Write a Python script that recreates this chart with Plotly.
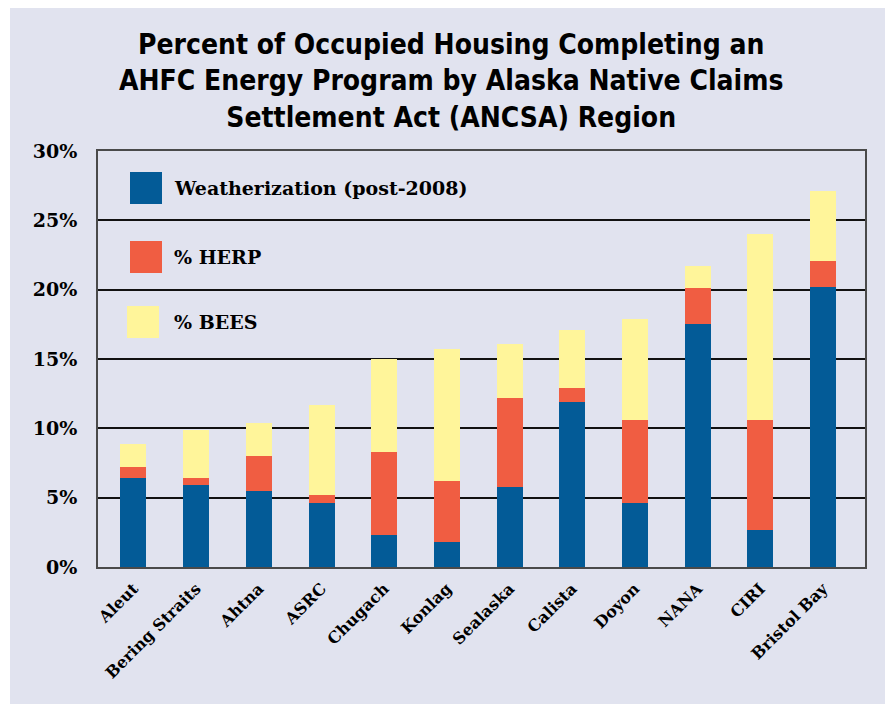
import plotly.graph_objects as go

regions = ["Aleut", "Bering Straits", "Ahtna", "ASRC", "Chugach", "Konlag",
           "Sealaska", "Calista", "Doyon", "NANA", "CIRI", "Bristol Bay"]
weatherization = [6.4, 5.9, 5.5, 4.6, 2.3, 1.8, 5.8, 11.9, 4.6, 17.5, 2.7, 20.2]
herp = [0.8, 0.5, 2.5, 0.6, 6.0, 4.4, 6.4, 1.0, 6.0, 2.6, 7.9, 1.9]
bees = [1.7, 3.5, 2.4, 6.5, 6.7, 9.5, 3.9, 4.2, 7.3, 1.6, 13.4, 5.0]
series_names = ["Weatherization (post-2008)", "% HERP", "% BEES"]
colors = ["#035B97", "#F05D42", "#FFF59A"]
y_ticks = [0, 5, 10, 15, 20, 25, 30]
y_ticklabels = ["0%", "5%", "10%", "15%", "20%", "25%", "30%"]

# page is offset by the default 8px body margin
OFF = 8
W, H = 893 - OFF, 704 - OFF
L, T = 98 - OFF, 151 - OFF
R = W - (865 - OFF)
B = H - (567 - OFF)
pw, ph = W - L - R, H - T - B

def px(x):  # page pixel -> paper x
    return (x - OFF - L) / pw

def py(y):  # page pixel -> paper y
    return (H - B - (y - OFF)) / ph

fig = go.Figure()
for name, vals, col in zip(series_names, [weatherization, herp, bees], colors):
    fig.add_trace(go.Bar(x=regions, y=vals, name=name, marker_color=col,
                         marker_line_width=0, width=0.415, showlegend=False))

serif = "DejaVu Serif, Liberation Serif, serif"
shapes = [
    dict(type="rect", xref="paper", yref="paper", x0=px(10), x1=px(890), y0=py(720), y1=py(0),
         fillcolor="#E1E3EF", line_width=0, layer="below"),
]
annotations = [
    dict(text="Percent of Occupied Housing Completing an<br>AHFC Energy Program by Alaska Native Claims<br>Settlement Act (ANCSA) Region",
         xref="paper", yref="paper", x=px(451), y=py(81), xanchor="center", yanchor="middle",
         showarrow=False,
         font=dict(family="Liberation Sans Narrow, DejaVu Sans Condensed, Roboto Condensed, Roboto, sans-serif",
                   size=28, color="#000000", weight="bold")),
]
legend_pos = [(130, 172), (130, 241), (127, 306)]
for (lx, ly), name, col in zip(legend_pos, series_names, colors):
    shapes.append(dict(type="rect", xref="paper", yref="paper", x0=px(lx), x1=px(lx + 32),
                       y0=py(ly + 32), y1=py(ly), fillcolor=col, line_width=0))
    annotations.append(dict(text=name, xref="paper", yref="paper", x=px(172), y=py(ly + 16),
                            xanchor="left", yanchor="middle", showarrow=False,
                            font=dict(family=serif, size=19, color="#000000", weight="bold")))

fig.update_layout(
    width=W, height=H, barmode="stack", bargap=0.5,
    margin=dict(l=L, r=R, t=T, b=B, autoexpand=False),
    paper_bgcolor="white", plot_bgcolor="white",
    shapes=shapes, annotations=annotations,
    xaxis=dict(range=[-0.566, 11.67], tickangle=-45, showgrid=False,
               showline=True, linecolor="#4a4a4a", linewidth=2, mirror=True,
               ticks="outside", ticklen=4, tickcolor="rgba(0,0,0,0)",
               tickfont=dict(family=serif, size=16, color="#000", weight="bold")),
    yaxis=dict(range=[0, 30], tickvals=y_ticks, ticktext=y_ticklabels,
               showgrid=True, gridcolor="#111111", gridwidth=1.5, zeroline=False,
               showline=True, linecolor="#4a4a4a", linewidth=2, mirror=True,
               ticks="outside", ticklen=15, tickcolor="rgba(0,0,0,0)",
               tickfont=dict(family=serif, size=19, color="#000", weight="bold")),
)

fig.write_html("out.html")
